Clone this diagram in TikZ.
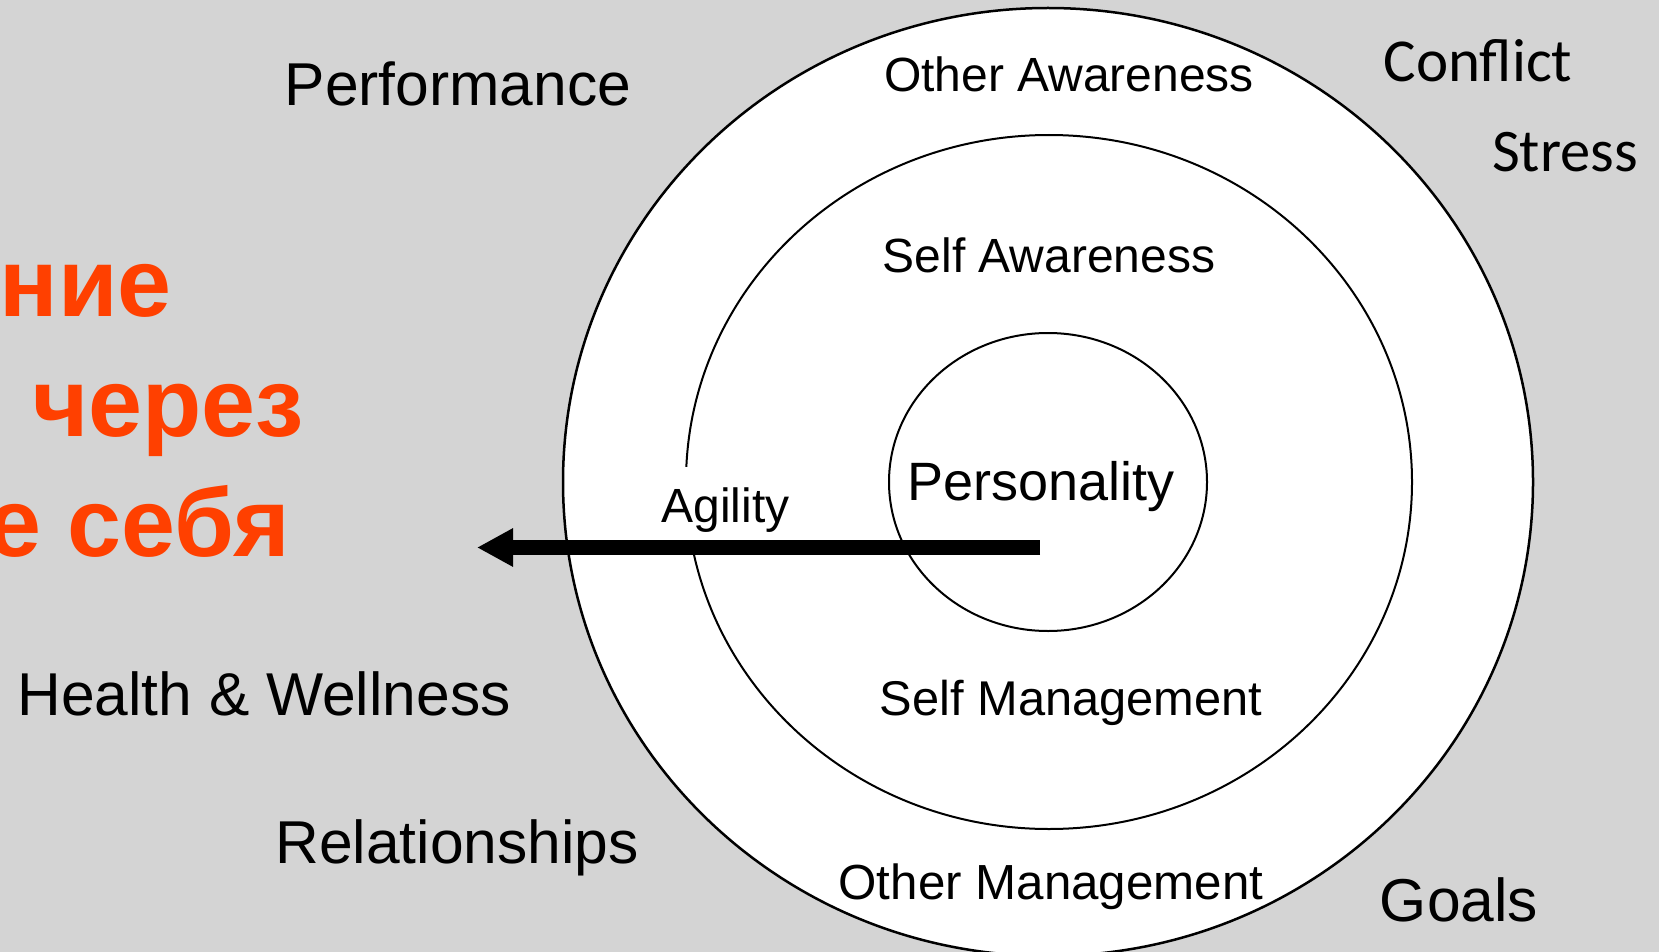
\documentclass[tikz,border=0pt]{standalone}
\usepackage{fontspec}
\setmainfont{Liberation Sans}
\newfontfamily\calibrifont{Carlito}
\usepackage{xcolor}
\usetikzlibrary{shapes.geometric,arrows.meta}
\definecolor{slidegray}{RGB}{212,212,212}
\definecolor{slideorange}{RGB}{255,64,0}
\newcommand{\sz}[1]{\fontsize{#1pt}{#1pt}\selectfont}

\begin{document}
\begin{tikzpicture}[x=1pt, y=-1pt,
    ring/.style={ellipse, draw, fill=white, line width=2pt, inner sep=0pt},
    ringlabel/.style={anchor=base, inner sep=0pt, font=\sz{48}},
    sidelabel/.style={anchor=base, inner sep=0pt, font=\sz{60.5}},
    stresslabel/.style={anchor=base, inner sep=0pt, font=\calibrifont\sz{61}},
    rulabel/.style={anchor=base east, inner sep=0pt, text=slideorange,
        font=\bfseries\sz{97}},
    >={Triangle[length=36pt,width=36pt]}]

    \useasboundingbox (0,0) rectangle (1659,952);
    \fill[slidegray] (0,0) rectangle (1659,952);
    \clip (0,0) rectangle (1659,952);

    % rings
    \node[ring, line width=2.5pt, minimum width=970pt, minimum height=948pt] (outer) at (1048,482) {};
    \node[ring, minimum width=726pt, minimum height=694pt] (middle) at (1049,482) {};
    \node[ring, minimum width=318pt, minimum height=298pt] (core) at (1048,482) {};

    \node[ringlabel] (otheraw) at (1069,92) {Other Awareness};
    \node[ringlabel] (selfaw) at (1049,272) {Self Awareness};
    \node[ringlabel, font=\sz{54}] (personality) at (1041,500) {Personality};
    \node[ringlabel, font=\sz{48.8}] (selfman) at (1071,715) {Self Management};
    \node[ringlabel, font=\sz{49.3}] (otherman) at (1051,899) {Other Management};

    % arrow out of the core
    \coordinate (arrowstart) at (1040,547.5);
    \coordinate (arrowtip) at (477,547.5);
    \draw[->, line width=15pt] (arrowstart) -- (arrowtip);
    \node[ringlabel, fill=white, minimum width=159pt, text height=55pt,
        text depth=18pt] (agility) at (725.5,522) {Agility};

    % outside
    \node[sidelabel] (performance) at (458,106) {Performance};
    \node[sidelabel] (health) at (264,715) {Health \& Wellness};
    \node[sidelabel] (relations) at (457,863) {Relationships};
    \node[sidelabel] (goals) at (1459,921) {Goals};
    \node[stresslabel] (conflict) at (1478,82) {Conflict};
    \node[stresslabel, font=\calibrifont\sz{60.5}] (stress) at (1565,172) {Stress};

    \node[rulabel] (ruone) at (172,316) {ние};
    \node[rulabel, anchor=base west] (rutwo) at (32,436) {через};
    \node[rulabel] (ruthree) at (290,556) {е себя};

\end{tikzpicture}
\end{document}
